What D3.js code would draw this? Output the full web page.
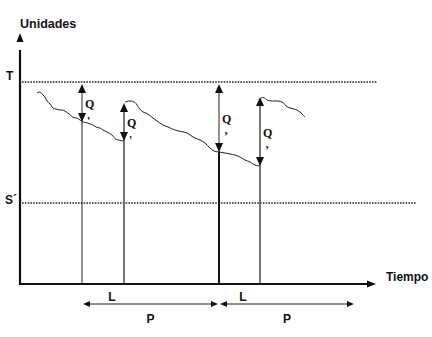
<!DOCTYPE html>
<html>
<head>
<meta charset="utf-8">
<script src="https://cdn.jsdelivr.net/npm/d3@7"></script>
<style>
  body { margin: 0; background: #fff; }
  svg { display: block; }
  .lab { font-family: "Liberation Sans", Arial, sans-serif; font-weight: bold; fill: #111; }
  .q { font-family: "Liberation Serif", "Times New Roman", serif; font-weight: bold; fill: #111; }
</style>
</head>
<body>
<svg width="432" height="337"></svg>
<script>
// levels (units)
const levelT = 40.4
const levelS = 16.2

// order moments (time), arrow tops and the inventory level when the order arrives
const orderTimes   = [12.4, 20.8, 39.8, 48.0]
const orderTops    = [40.0, 36.2, 40.0, 37.4]
const orderBottoms = [32.4, 28.6, 26.4, 23.6]
const qMarks = ["'", "'", "’", "’"]

// inventory curves [time, units]
const curve1 = [[3.4,38.2],[4.0,38.4],[4.6,37.8],[5.0,37.4],[5.4,36.6],[6.0,36.0],[6.6,35.2],[7.2,35.0],[8.0,34.8],[8.6,34.8],[9.4,34.3],[10.0,33.9],[10.6,33.3],[11.3,33.2],[12.0,32.8],[12.6,32.4],[13.2,32.3],[14.0,32.0],[14.6,31.8],[15.4,31.3],[16.0,31.2],[16.6,30.8],[17.4,30.4],[18.4,29.8],[19.0,29.1],[19.6,28.8],[20.2,28.7],[20.8,28.6]]
const curve2 = [[21.0,36.4],[22.0,36.6],[23.0,36.3],[23.8,35.2],[24.6,34.4],[25.4,34.1],[26.6,33.2],[27.4,32.6],[28.6,31.8],[29.6,31.4],[31.0,30.8],[32.2,30.5],[33.4,30.2],[34.6,29.4],[36.0,28.8],[37.0,28.2],[38.0,27.2],[38.8,26.6],[39.8,26.4],[41.0,26.2],[42.0,26.0],[43.0,25.8],[44.0,25.4],[45.0,24.8],[46.0,24.4],[47.0,23.8],[48.0,23.6]]
const curve3 = [[48.2,37.2],[48.8,37.3],[49.4,36.8],[50.4,36.6],[51.6,36.6],[52.6,36.3],[53.2,35.6],[54.0,35.2],[54.8,35.0],[55.4,34.8],[56.2,34.2],[57.0,33.4]]

// spans under the time axis
const spanStarts = [12.6, 40.0]
const spanEnds   = [39.6, 66.8]
const spanLabelL = ["L", "L"]
const spanLabelP = ["P", "P"]

const svg = d3.select("svg")
const x = d3.scaleLinear().domain([0, 71]).range([20, 375])
const y = d3.scaleLinear().domain([0, 50]).range([284, 34])

function head(px, py, dir, w, h) {
    // dir: "up", "down", "left", "right"
    let pts
    if (dir == "up") pts = [[px, py], [px - w / 2, py + h], [px + w / 2, py + h]]
    if (dir == "down") pts = [[px, py], [px - w / 2, py - h], [px + w / 2, py - h]]
    if (dir == "right") pts = [[px, py], [px - h, py - w / 2], [px - h, py + w / 2]]
    if (dir == "left") pts = [[px, py], [px + h, py - w / 2], [px + h, py + w / 2]]
    svg.append("path").attr("d", "M" + pts.join("L") + "Z").style("fill", "#111")
}

// dotted levels
svg.append("line")
    .attr("x1", x(0) + 2).attr("x2", x(71.4))
    .attr("y1", y(levelT)).attr("y2", y(levelT))
    .style("stroke", "#222").style("stroke-width", 1.6).style("stroke-dasharray", "1.6,1.2")
svg.append("line")
    .attr("x1", x(0) + 2).attr("x2", x(79.2))
    .attr("y1", y(levelS)).attr("y2", y(levelS))
    .style("stroke", "#222").style("stroke-width", 1.6).style("stroke-dasharray", "1.6,1.2")

// curves
const line = d3.line().x(d => x(d[0])).y(d => y(d[1])).curve(d3.curveCatmullRom)
for (const c of [curve1, curve2, curve3]) {
    svg.append("path").attr("d", line(c))
        .style("fill", "none").style("stroke", "#222").style("stroke-width", 1)
}

// order lines
orderTimes.forEach((t, i) => {
    const px = x(t)
    const grey = (i == 1 || i == 3)
    svg.append("line")
        .attr("x1", px).attr("x2", px)
        .attr("y1", y(0)).attr("y2", y(orderTops[i]) + 6)
        .style("stroke", grey ? "#555" : "#222")
        .style("stroke-width", grey ? 1.6 : 1)
    if (i == 2) {
        svg.append("line")
            .attr("x1", px).attr("x2", px)
            .attr("y1", y(0)).attr("y2", y(orderBottoms[i]))
            .style("stroke", "#111").style("stroke-width", 2)
    }
    head(px, y(orderTops[i]), "up", 8, 9)
    head(px, y(orderBottoms[i]), "down", 8, 9)
    const mid = (y(orderTops[i]) + y(orderBottoms[i])) / 2
    svg.append("text").attr("class", "q")
        .attr("x", px + 3).attr("y", mid + 5)
        .style("font-size", "12px")
        .text("Q")
    svg.append("text").attr("class", "q")
        .attr("x", px + 5).attr("y", mid + 22)
        .style("font-size", "12px")
        .text(qMarks[i])
})

// axes
svg.append("line")
    .attr("x1", x(0)).attr("x2", x(0)).attr("y1", y(0) + 1).attr("y2", y(48) + 6)
    .style("stroke", "#111").style("stroke-width", 2.2)
head(x(0), y(50) - 1, "up", 7, 9)
svg.append("line")
    .attr("x1", x(0) - 1).attr("x2", x(71) - 6).attr("y1", y(0)).attr("y2", y(0))
    .style("stroke", "#111").style("stroke-width", 2.2)
head(x(71) + 1, y(0), "right", 7, 9)

// spans
spanStarts.forEach((s, i) => {
    const yy = y(0) + 20
    svg.append("line")
        .attr("x1", x(s) + 5).attr("x2", x(spanEnds[i]) - 5)
        .attr("y1", yy).attr("y2", yy)
        .style("stroke", "#222").style("stroke-width", 1)
    head(x(s), yy, "left", 6, 7)
    head(x(spanEnds[i]), yy, "right", 6, 7)
    svg.append("text").attr("class", "lab")
        .attr("x", x(s) + (i == 0 ? 29 : 23)).attr("y", yy - 3)
        .attr("text-anchor", "middle").style("font-size", "12px")
        .text(spanLabelL[i])
    svg.append("text").attr("class", "lab")
        .attr("x", (x(s) + x(spanEnds[i])) / 2).attr("y", yy + 19)
        .attr("text-anchor", "middle").style("font-size", "12px")
        .text(spanLabelP[i])
})

// labels
svg.append("text").attr("class", "lab")
    .attr("x", x(0)).attr("y", 28).style("font-size", "12.5px").text("Unidades")
svg.append("text").attr("class", "lab")
    .attr("x", 6).attr("y", 80).style("font-size", "12px").text("T")
svg.append("text").attr("class", "lab")
    .attr("x", 5).attr("y", 204).style("font-size", "12px").text("S´")
svg.append("text").attr("class", "lab")
    .attr("x", 386).attr("y", 281).style("font-size", "12px").text("Tiempo")
</script>
</body>
</html>
